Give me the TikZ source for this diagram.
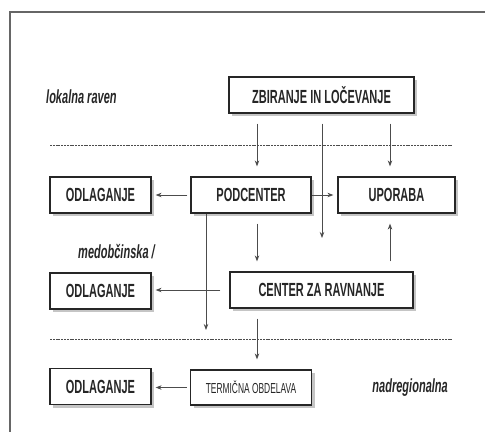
\documentclass[tikz,border=0pt]{standalone}
\usepackage{fontspec}
\newfontfamily\narrowfont[FakeStretch=0.58]{Liberation Sans}
\usetikzlibrary{positioning,shadows,arrows.meta}

\tikzset{
    box/.style={draw=black!85, line width=1.2pt, fill=white, minimum height=36pt, inner sep=0pt,
        font=\narrowfont\fontsize{19}{19}\selectfont\bfseries, text=black!85,
        drop shadow={shadow xshift=3pt, shadow yshift=-3pt, fill=black!45}},
    level/.style={font=\narrowfont\fontsize{19}{19}\selectfont\bfseries\itshape, text=black!85, inner sep=0pt},
    flow/.style={-{Stealth[length=6pt,width=4.5pt]}, line width=0.8pt, draw=black!70},
    gap/.style={shorten <=10pt, shorten >=10pt},
    sep/.style={line width=0.9pt, dash pattern=on 2pt off 0.8pt, draw=black!70},
}

\begin{document}
\begin{tikzpicture}[x=1pt, y=-1pt]
    \useasboundingbox (0,0) rectangle (485,432);
    \draw[black!60, line width=1.5pt] (485,12) -| (10,432);

    \node[box, minimum width=120pt] (pod) at (251,195) {PODCENTER};
    \node[box, minimum width=101pt, left of=pod, node distance=150.5pt] (odl1) {ODLAGANJE};
    \node[box, minimum width=117pt, right of=pod, node distance=145.5pt] (upo) {UPORABA};
    \node[box, minimum width=185pt] (zbir) at (321.5,95) {ZBIRANJE IN LOČEVANJE};
    \node[box, minimum width=183pt, below of=zbir, node distance=195pt] (cen) {CENTER ZA RAVNANJE};
    \node[box, minimum width=101pt, below of=odl1, node distance=96pt] (odl2) {ODLAGANJE};
    \node[box, minimum width=121pt, minimum height=35pt, below of=pod, node distance=192.5pt,
        font=\narrowfont\fontsize{14.5}{14.5}\selectfont] (term) {TERMIČNA OBDELAVA};
    \node[box, minimum width=101pt, below of=odl2, node distance=95.5pt] (odl3) {ODLAGANJE};

    \node[level, anchor=west] (lok) at (46,97) {lokalna raven};
    \node[level, anchor=east] (med) at (155,252) {medobčinska /};
    \node[level, anchor=east] (nad) at (448,388) {nadregionalna};

    \coordinate (lcol) at (257,0);
    \coordinate (mcol) at (322,0);
    \coordinate (rcol) at (390,0);
    \coordinate (pcol) at (206,0);
    \coordinate (mend) at (322,238);
    \coordinate (pend) at (206,330);

    \draw[sep] (50,145) coordinate (s1) -- (452,145) coordinate (e1);
    \draw[sep] (50,339) coordinate (s2) -- (452,339) coordinate (e2);

    \draw[flow, gap] (zbir.south -| lcol) -- (pod.north -| lcol);
    \draw[flow, gap] (zbir.south -| rcol) -- (upo.north -| rcol);
    \draw[flow, shorten <=10pt] (zbir.south -| mcol) -- (mend);
    \draw[flow, shorten <=3pt, shorten >=4pt] (pod.west) -- (odl1.east);
    \draw[flow, shorten >=4pt] (pod.east) -- (upo.west);
    \draw[flow, gap] (pod.south -| lcol) -- (cen.north -| lcol);
    \draw[flow] (pod.south -| pcol) -- (pend);
    \draw[flow, gap] (cen.north -| rcol) -- (upo.south -| rcol);
    \draw[flow, shorten <=9pt, shorten >=4pt] (cen.west) -- (cen.west -| odl2.east);
    \draw[flow, gap] (cen.south -| lcol) -- (term.north -| lcol);
    \draw[flow, shorten <=3pt, shorten >=4pt] (term.west) -- (term.west -| odl3.east);
\end{tikzpicture}
\end{document}
